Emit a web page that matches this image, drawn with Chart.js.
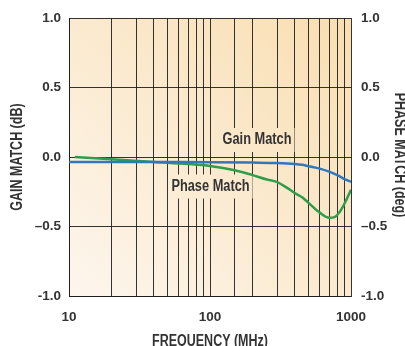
<!DOCTYPE html>
<html>
<head>
<meta charset="utf-8">
<script src="https://cdn.jsdelivr.net/npm/chart.js@4"></script>
<style>
  html, body { margin: 0; padding: 0; background: #fff; }
  canvas { display: block; }
</style>
</head>
<body>
<canvas id="chart" width="405" height="346"></canvas>
<script>
// -------------------- DATA --------------------
const gainFreq = [10, 20, 50, 100, 200, 300, 400, 450, 500, 600, 700, 800, 900, 1000];
const gainMatch = [-0.035, -0.035, -0.036, -0.037, -0.04, -0.043, -0.05, -0.056, -0.066, -0.083, -0.105, -0.13, -0.158, -0.178];

const phaseFreq = [11, 20, 40, 70, 100, 150, 200, 250, 300, 350, 400, 450, 500, 600, 700, 770, 850, 925, 1000];
const phaseMatch = [0.0, -0.015, -0.035, -0.05, -0.064, -0.095, -0.13, -0.16, -0.18, -0.22, -0.26, -0.29, -0.33, -0.40, -0.437, -0.43, -0.38, -0.31, -0.236];

const xLabels = [10, 100, 1000];
const yTicks = [-1, -0.5, 0, 0.5, 1];
const yLabels = ["-1.0", "\u20130.5", "0.0", "0.5", "1.0"];

// -------------------- STYLE --------------------
const ink = "#333333";
const gridColor = "rgba(30,30,30,0.9)";
const sans = "'Liberation Sans', Arial, sans-serif";
const tickFont = { family: sans, size: 13.5, weight: "bold" };

function points(xs, ys) {
  return xs.map((x, i) => ({ x: x, y: ys[i] }));
}

function yLabel(v) {
  let i = yTicks.indexOf(v);
  return i >= 0 ? yLabels[i] : "";
}

// bold text squeezed sideways to get a condensed face
function squeezed(ctx, text, x, y, size, squeeze, angle) {
  ctx.save();
  ctx.translate(x, y);
  ctx.rotate(angle || 0);
  ctx.scale(squeeze, 1);
  ctx.font = "bold " + size + "px " + sans;
  ctx.textAlign = "center";
  ctx.textBaseline = "middle";
  ctx.fillText(text, 0, 0);
  ctx.restore();
}

let areaFill = null;

// paper background, labels and axis titles
const decor = {
  id: "decor",
  beforeDraw(chart) {
    const { ctx, chartArea: a } = chart;
    areaFill = ctx.createLinearGradient(a.left, a.bottom, a.right, a.top);
    areaFill.addColorStop(0, "#fdf6ee");
    areaFill.addColorStop(1, "#f9deb0");
    ctx.save();
    ctx.fillStyle = areaFill;
    ctx.fillRect(a.left, a.top, a.right - a.left, a.bottom - a.top);
    ctx.restore();
  },
  beforeDatasetsDraw(chart) {
    const ctx = chart.ctx;
    [["Gain Match", 257, 140], ["Phase Match", 210.5, 186.5]].forEach(([t, x, y]) => {
      ctx.save();
      ctx.font = "bold 16px " + sans;
      let w = ctx.measureText(t).width * 0.8 + 6;
      ctx.fillStyle = areaFill;
      ctx.fillRect(x - w / 2, y - 12, w, 24);
      ctx.fillStyle = ink;
      squeezed(ctx, t, x, y, 16, 0.8);
      ctx.restore();
    });
  },
  afterDraw(chart) {
    const { ctx, chartArea: a } = chart;
    const midY = (a.top + a.bottom) / 2;
    ctx.save();
    ctx.fillStyle = ink;
    squeezed(ctx, "FREQUENCY (MHz)", (a.left + a.right) / 2, 342, 16, 0.78);
    squeezed(ctx, "GAIN MATCH (dB)", 18, midY, 16, 0.78, -Math.PI / 2);
    squeezed(ctx, "PHASE MATCH (deg)", 399, midY - 2, 16, 0.78, Math.PI / 2);
    ctx.restore();
  }
};

// -------------------- CHART --------------------
new Chart(document.getElementById("chart"), {
  type: "line",
  data: {
    datasets: [
      {
        label: "Gain Match",
        data: points(gainFreq, gainMatch),
        borderColor: "#2f78bd",
        borderWidth: 2.5,
        pointRadius: 0,
        cubicInterpolationMode: "monotone",
        yAxisID: "y"
      },
      {
        label: "Phase Match",
        data: points(phaseFreq, phaseMatch),
        borderColor: "#2e9e4a",
        borderWidth: 2.5,
        pointRadius: 0,
        cubicInterpolationMode: "monotone",
        yAxisID: "y2"
      }
    ]
  },
  options: {
    responsive: false,
    animation: false,
    events: [],
    layout: { padding: { top: 14, left: 0, right: 0, bottom: 0 } },
    plugins: { legend: { display: false }, tooltip: { enabled: false } },
    scales: {
      x: {
        type: "logarithmic",
        min: 10,
        max: 1000,
        afterFit(s) { s.height = 50; },
        grid: { color: gridColor, lineWidth: 1, drawTicks: false },
        border: { color: gridColor, width: 1 },
        ticks: {
          autoSkip: false,
          maxRotation: 0,
          padding: 13,
          color: ink,
          font: tickFont,
          callback: v => (xLabels.includes(v) ? String(v) : "")
        }
      },
      y: {
        position: "left",
        min: -1,
        max: 1,
        afterFit(s) { s.width = 69; },
        afterBuildTicks(s) { s.ticks = yTicks.map(v => ({ value: v })); },
        grid: { color: gridColor, lineWidth: 1, drawTicks: false },
        border: { color: gridColor, width: 1 },
        ticks: { padding: 8, color: ink, font: tickFont, callback: yLabel }
      },
      y2: {
        position: "right",
        min: -1,
        max: 1,
        afterFit(s) { s.width = 54; },
        afterBuildTicks(s) { s.ticks = yTicks.map(v => ({ value: v })); },
        grid: { display: false, drawTicks: false },
        border: { display: false },
        ticks: { padding: 10, color: ink, font: tickFont, callback: yLabel }
      }
    }
  },
  plugins: [decor]
});
</script>
</body>
</html>
